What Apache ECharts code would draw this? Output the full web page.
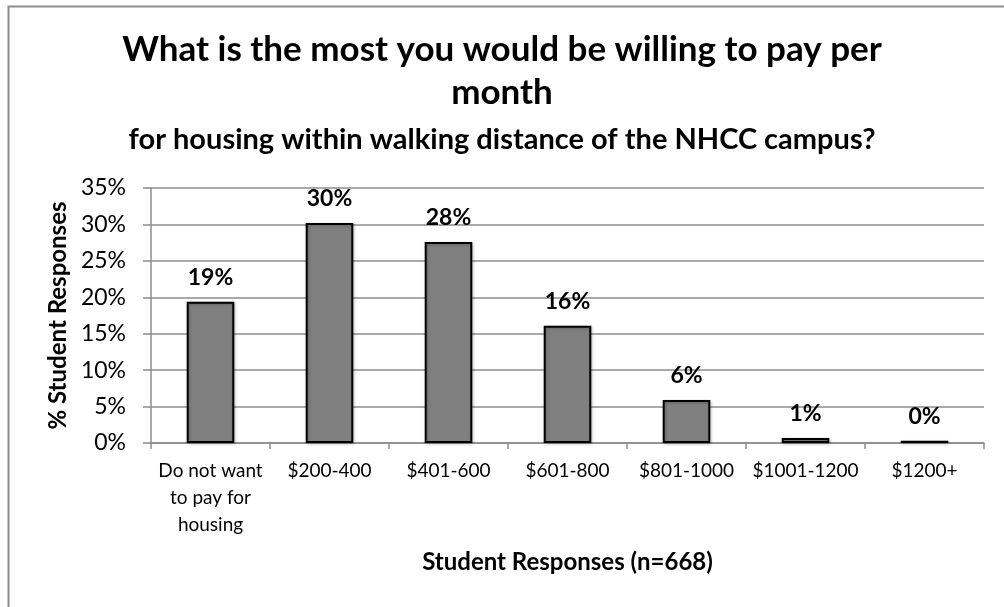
<!DOCTYPE html>
<html>
<head>
<meta charset="utf-8">
<script src="https://cdn.jsdelivr.net/npm/echarts@6/dist/echarts.min.js"></script>
<style>
  html, body { margin: 0; padding: 0; background: #fff; }
  #chart { width: 1004px; height: 607px; }
</style>
</head>
<body>
<div id="chart"></div>
<script>
// Monthly rent students would pay for housing near campus
const categories = [
  'Do not want\nto pay for\nhousing',
  '$200-400',
  '$401-600',
  '$601-800',
  '$801-1000',
  '$1001-1200',
  '$1200+'
];
const responsePct = [19.4, 30.2, 27.6, 16.1, 5.9, 0.7, 0.3];
const yTicks = { min: 0, max: 35, interval: 5 };

const FONT = 'Lato, "Open Sans", sans-serif';

const chart = echarts.init(document.getElementById('chart'), null, { renderer: 'canvas' });

chart.setOption({
  backgroundColor: '#ffffff',
  animation: false,
  textStyle: { fontFamily: FONT, color: '#000' },
  title: [
    {
      text: 'What is the most you would be willing to pay per\nmonth',
      left: 'center',
      top: 28,
      padding: 0,
      textStyle: { fontFamily: FONT, fontSize: 35, fontWeight: 'bold', color: '#000', lineHeight: 43 }
    },
    {
      text: 'for housing within walking distance of the NHCC campus?',
      left: 'center',
      top: 122,
      padding: 0,
      textStyle: { fontFamily: FONT, fontSize: 29, fontWeight: 'bold', color: '#000', lineHeight: 36 }
    }
  ],
  graphic: [
    {
      type: 'rect',
      left: 6, top: 4,
      shape: { width: 1010, height: 620 },
      style: { fill: 'none', stroke: '#8c8c8c', lineWidth: 2 },
      silent: true
    }
  ],
  grid: { left: 151, right: 20, top: 188, bottom: 164, containLabel: false },
  xAxis: {
    type: 'category',
    data: categories,
    name: 'Student Responses (n=668)',
    nameLocation: 'middle',
    nameGap: 107,
    nameTextStyle: { fontFamily: FONT, fontSize: 24, fontWeight: 'bold', color: '#000' },
    axisLine: { lineStyle: { color: '#8c8c8c', width: 1.5 } },
    axisTick: { show: true, length: 6, alignWithLabel: false, lineStyle: { color: '#8c8c8c', width: 1.5 } },
    axisLabel: {
      interval: 0,
      margin: 14,
      fontFamily: FONT,
      fontSize: 19,
      lineHeight: 27,
      color: '#000'
    }
  },
  yAxis: {
    type: 'value',
    min: yTicks.min,
    max: yTicks.max,
    interval: yTicks.interval,
    name: '% Student Responses',
    nameLocation: 'middle',
    nameGap: 81,
    nameRotate: 90,
    nameTextStyle: { fontFamily: FONT, fontSize: 24, fontWeight: 'bold', color: '#000' },
    axisLine: { show: true, lineStyle: { color: '#8c8c8c', width: 1.5 } },
    axisTick: { show: true, length: 8, lineStyle: { color: '#8c8c8c', width: 1.5 } },
    axisLabel: {
      margin: 25,
      fontFamily: FONT,
      fontSize: 23,
      color: '#000',
      formatter: v => v + '%'
    },
    splitLine: { show: true, lineStyle: { color: '#8c8c8c', width: 1.5 } }
  },
  series: [
    {
      type: 'bar',
      data: responsePct,
      barWidth: '40%',
      itemStyle: {
        color: '#808080',
        borderColor: '#000',
        borderWidth: 2,
        shadowColor: 'rgba(0,0,0,0.25)',
        shadowBlur: 3,
        shadowOffsetX: 1,
        shadowOffsetY: 1
      },
      label: {
        show: true,
        position: 'top',
        distance: 13,
        fontFamily: FONT,
        fontSize: 23,
        fontWeight: 'bold',
        color: '#000',
        formatter: p => Math.round(p.value) + '%'
      }
    }
  ]
});
</script>
</body>
</html>
